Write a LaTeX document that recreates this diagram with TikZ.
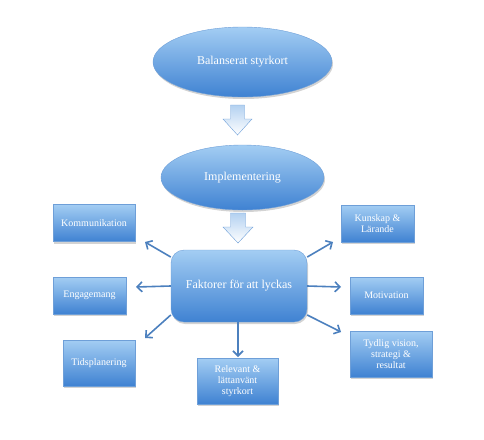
\documentclass[tikz,border=0pt]{standalone}
\usepackage{fontspec}
\setmainfont{Liberation Serif}
\usetikzlibrary{shapes.geometric,shadows,arrows.meta}

\definecolor{shadetop}{HTML}{A3CDF3}
\definecolor{shadebot}{HTML}{3F82D2}
\definecolor{rimblue}{HTML}{6E9FD8}
\definecolor{linkblue}{HTML}{4C80BE}
\definecolor{pointtop}{HTML}{B3D1F1}

\tikzset{
	bluefill/.style={top color=shadetop,bottom color=shadebot,draw=rimblue,thin,
		text=white,drop shadow={shadow xshift=1pt,shadow yshift=-2pt,opacity=0.35}},
	oval/.style={bluefill,ellipse,inner sep=0pt,font=\fontsize{12}{14}\selectfont},
	factor/.style={bluefill,rectangle,inner sep=1pt,align=center,
		font=\fontsize{10}{11.3}\selectfont},
	pointer/.style={draw=rimblue,thin,top color=pointtop,bottom color=white},
	link/.style={linkblue,line width=1.6pt,-{Straight Barb[length=5pt,width=10pt]}}
}

\begin{document}
\begin{tikzpicture}[x=1pt,y=-1pt]
	\useasboundingbox (0,0) rectangle (484,439);

	% top of the chain
	\node[oval,minimum width=179pt,minimum height=70pt] (bsc) at (242.5,62) {Balanserat styrkort};
	\node[oval,minimum width=163pt,minimum height=65pt] (impl) at (242.5,177.5) {Implementering};

	% block arrows
	\draw[pointer] (230.5,105) -- (244.5,105) -- (244.5,119) -- (252,119)
		-- (237.5,135) -- (223,119) -- (230.5,119) -- cycle;
	\draw[pointer] (230.5,213) -- (245.5,213) -- (245.5,227) -- (253,227)
		-- (238,243) -- (223,227) -- (230.5,227) -- cycle;

	% centre
	\node[bluefill,rectangle,rounded corners=13pt,minimum width=136pt,minimum height=72pt,
		font=\fontsize{12}{14}\selectfont] (fac) at (239,286) {Faktorer för att lyckas};

	% left column
	\node[factor,minimum width=82pt,minimum height=37pt] (komm) at (94,223) {Kommunikation};
	\node[factor,minimum width=73pt,minimum height=37pt] (eng) at (89.5,295.5) {Engagemang};
	\node[factor,minimum width=72pt,minimum height=46pt] (tid) at (99,363) {Tidsplanering};

	% bottom
	\node[factor,minimum width=81pt,minimum height=46pt] (rel) at (237.5,381) {Relevant \&\\lättanvänt\\styrkort};

	% right column
	\node[factor,minimum width=73pt,minimum height=37pt] (kun) at (377.5,223.5) {Kunskap \&\\Lärande};
	\node[factor,minimum width=73pt,minimum height=37pt] (mot) at (386.5,295.5) {Motivation};
	\node[factor,minimum width=82pt,minimum height=46pt] (tyd) at (391,354) {Tydlig vision,\\strategi \&\\resultat};

	% arrow tips
	\coordinate (kommtip) at (145,242);
	\coordinate (engtip) at (136,287);
	\coordinate (tidtip) at (145,338);
	\coordinate (reltip) at (238,357);
	\coordinate (kuntip) at (333,242);
	\coordinate (mottip) at (341,287);
	\coordinate (tydtip) at (341,332);

	\draw[link] (fac.157) -- (kommtip);
	\draw[link] (fac.west) -- (engtip);
	\draw[link] (fac.203) -- (tidtip);
	\draw[link] (fac.south -| reltip) -- (reltip);
	\draw[link] (fac.23) -- (kuntip);
	\draw[link] (fac.east) -- (mottip);
	\draw[link] (fac.337) -- (tydtip);

\end{tikzpicture}
\end{document}
